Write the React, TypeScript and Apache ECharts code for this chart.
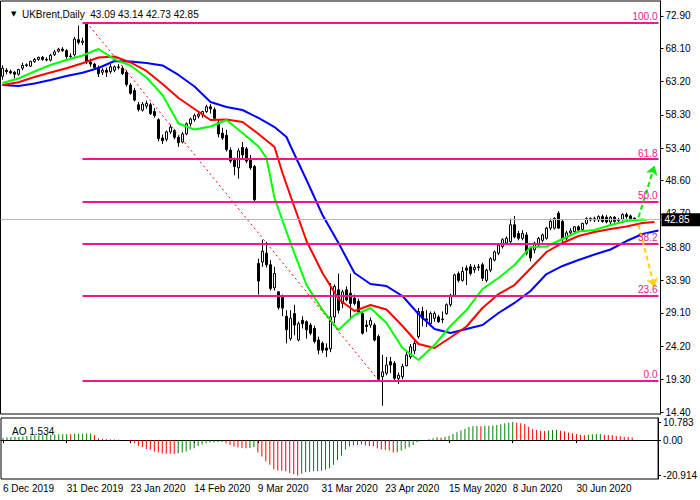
import React, { useEffect, useRef } from 'react';
import * as echarts from 'echarts';

const FONT = "'Liberation Sans', 'DejaVu Sans', sans-serif";

// date tick labels, one every 16 bars
const xLabels = ['6 Dec 2019', '31 Dec 2019', '23 Jan 2020', '14 Feb 2020', '9 Mar 2020', '31 Mar 2020', '23 Apr 2020', '15 May 2020', '8 Jun 2020', '30 Jun 2020'];
const LABEL_STEP = 16;
const N_SLOTS = 165;

const priceLabels = ['72.90', '68.10', '63.20', '58.30', '53.40', '48.60', '43.70', '38.80', '33.90', '29.10', '24.20', '19.30', '14.40'];
const aoTickValues = [10.783, 0, -20.914];
const aoTickLabels = ['10.783', '0.00', '-20.914'];

const open = [
  64.0, 64.9, 64.7, 64.6, 64.3, 65.2, 65.6, 65.5, 66.2, 66.5,
  66.8, 66.5, 66.4, 67.2, 67.7, 68.0, 67.8, 66.9, 67.2, 69.4,
  69.0, 71.9, 66.1, 65.8, 65.3, 64.6, 64.9, 64.7, 64.9, 65.4,
  65.2, 64.6, 62.7, 61.9, 59.8, 59.0, 59.6, 59.8, 58.8, 57.6,
  54.9, 54.7, 55.8, 56.0, 55.0, 54.3, 55.5, 57.0, 57.6, 58.1,
  58.3, 58.8, 59.5, 59.1, 57.2, 55.6, 55.3, 53.1, 51.8, 50.5,
  53.5, 53.3, 51.9, 50.7, 36.4, 36.6, 37.9, 36.2, 32.8, 32.2,
  31.4, 28.6, 25.3, 29.0, 25.1, 28.0, 27.8, 27.3, 26.8, 25.1,
  24.6, 23.9, 23.8, 28.5, 32.5, 30.5, 32.5, 32.0, 31.3, 30.8,
  29.0, 27.3, 27.3, 27.3, 25.6, 19.7, 20.2, 21.9, 21.65, 19.4,
  19.7, 21.3, 22.6, 23.5, 25.6, 29.3, 28.2, 27.5, 28.3, 28.5,
  28.1, 29.0, 30.3, 31.7, 34.9, 33.9, 35.7, 35.9, 35.5, 35.8,
  36.2, 33.9, 35.4, 36.9, 37.9, 38.9, 39.4, 39.6, 42.1, 40.8,
  40.1, 40.6, 38.6, 38.4, 39.1, 39.8, 40.1, 41.6, 41.6, 43.8,
  42.6, 40.1, 40.9, 41.1, 41.8, 41.4, 42.3, 43.0, 42.8, 42.8,
  43.3, 43.2, 42.5, 43.2, 42.7, 42.9, 43.6, 43.4, 43.09,
];
const high = [
  65.6, 65.2, 65.0, 64.8, 65.1, 66.0, 65.9, 66.3, 66.7, 66.9,
  67.0, 66.8, 67.3, 67.9, 68.2, 68.3, 68.0, 67.4, 69.8, 71.5,
  69.7, 72.0, 66.6, 66.0, 65.6, 65.2, 65.3, 65.8, 65.6, 65.8,
  65.5, 64.9, 63.0, 62.3, 60.2, 60.2, 60.4, 60.1, 59.3, 57.8,
  55.4, 56.0, 56.9, 56.2, 55.3, 55.8, 57.2, 57.9, 58.5, 58.7,
  58.9, 59.8, 59.9, 59.4, 57.6, 56.4, 56.1, 53.5, 52.0, 53.4,
  54.3, 53.6, 52.4, 50.9, 37.1, 39.9, 39.6, 36.9, 35.9, 32.3,
  31.8, 29.5, 29.5, 30.3, 27.8, 28.6, 28.0, 27.6, 27.2, 25.6,
  24.9, 24.6, 33.5, 33.3, 34.9, 32.5, 33.0, 34.9, 31.8, 31.2,
  29.4, 28.0, 28.4, 27.6, 25.9, 22.9, 22.6, 22.6, 22.0, 20.3,
  21.6, 23.6, 24.5, 25.3, 29.8, 30.0, 29.5, 29.3, 29.3, 28.8,
  29.3, 30.5, 31.9, 34.9, 35.2, 35.9, 36.1, 36.3, 36.2, 36.3,
  36.5, 35.6, 37.3, 38.3, 39.3, 40.1, 40.4, 43.0, 43.4, 41.2,
  41.3, 41.0, 38.9, 39.6, 40.3, 40.8, 41.8, 43.0, 43.2, 44.1,
  42.8, 41.2, 41.6, 41.9, 42.0, 42.4, 43.2, 43.2, 43.3, 43.5,
  43.6, 43.5, 43.4, 43.4, 43.1, 43.8, 43.9, 43.6, 43.14,
];
const low = [
  63.5, 64.3, 64.3, 63.7, 64.1, 64.9, 65.4, 65.4, 66.0, 66.3,
  66.3, 66.2, 66.2, 67.0, 67.5, 67.6, 66.6, 66.5, 66.9, 68.7,
  68.6, 65.8, 65.4, 65.0, 63.9, 64.2, 63.9, 64.4, 64.6, 65.0,
  64.2, 62.5, 61.3, 60.3, 58.8, 58.8, 59.2, 58.3, 57.9, 54.4,
  54.0, 54.4, 55.5, 54.7, 53.6, 54.1, 55.3, 56.6, 57.3, 57.8,
  57.9, 58.6, 58.5, 57.5, 55.0, 54.6, 52.9, 51.2, 49.4, 48.9,
  51.7, 51.2, 50.2, 45.5, 31.8, 35.9, 35.8, 32.4, 32.4, 29.6,
  28.6, 24.6, 25.0, 25.8, 24.9, 26.8, 25.3, 25.8, 24.6, 23.0,
  23.2, 22.6, 23.3, 27.6, 29.0, 29.8, 30.8, 28.1, 30.2, 28.9,
  25.9, 26.3, 26.9, 24.9, 19.0, 15.4, 19.9, 20.2, 19.2, 18.6,
  19.3, 21.2, 22.3, 23.0, 25.3, 27.1, 27.0, 27.2, 27.8, 27.6,
  27.6, 28.8, 30.0, 31.5, 33.6, 33.7, 33.2, 34.6, 35.0, 35.3,
  33.8, 33.6, 35.1, 36.7, 37.6, 38.6, 39.1, 39.4, 40.1, 39.8,
  39.8, 37.6, 36.7, 37.9, 38.9, 39.5, 39.9, 41.3, 41.4, 41.5,
  39.6, 39.8, 40.4, 40.8, 41.0, 41.2, 42.1, 42.6, 42.5, 42.5,
  42.4, 42.3, 42.2, 42.4, 42.4, 42.7, 43.0, 42.8, 42.73,
];
const close = [
  65.2, 64.7, 64.5, 64.3, 65.0, 65.6, 65.7, 66.2, 66.5, 66.8,
  66.5, 66.4, 67.1, 67.6, 68.0, 67.8, 66.9, 67.0, 69.5, 69.0,
  69.2, 66.1, 65.8, 65.3, 64.4, 64.9, 64.6, 65.4, 65.4, 65.3,
  64.4, 62.8, 61.5, 60.5, 59.1, 59.9, 60.0, 58.5, 58.2, 54.8,
  54.5, 55.8, 56.5, 55.0, 54.2, 55.5, 57.0, 57.7, 58.2, 58.4,
  58.8, 59.5, 59.2, 57.8, 55.5, 54.9, 53.2, 51.5, 50.7, 53.0,
  52.4, 51.5, 50.5, 45.8, 33.8, 38.2, 36.2, 32.7, 34.9, 29.9,
  29.8, 26.6, 28.3, 27.3, 27.5, 27.5, 26.6, 26.1, 24.9, 23.6,
  23.6, 23.6, 28.5, 33.0, 29.5, 32.2, 31.0, 30.5, 30.5, 29.2,
  26.1, 27.1, 28.0, 25.1, 19.3, 20.4, 21.4, 21.4, 19.45, 19.9,
  21.2, 22.9, 24.1, 24.6, 29.3, 28.3, 28.0, 29.0, 29.0, 27.8,
  28.2, 30.3, 31.7, 34.7, 33.9, 35.2, 35.4, 34.9, 35.8, 35.9,
  34.2, 35.4, 37.1, 38.1, 39.1, 39.9, 40.1, 42.1, 40.3, 40.1,
  40.8, 37.9, 37.2, 39.4, 40.1, 40.6, 41.6, 42.6, 43.05, 41.6,
  40.1, 40.9, 41.2, 41.8, 41.3, 42.3, 43.0, 42.8, 43.0, 43.3,
  42.6, 42.5, 43.2, 42.6, 42.9, 43.6, 43.3, 43.0, 42.85,
];

// Alligator lines: [bar index, price]
const lips = [
  [0, 63.01], [4, 63.68], [8, 64.71], [12, 65.67], [16, 66.41], [20, 67.07], [24, 68.03], [28, 66.5],
  [32, 65.6], [36, 63.83], [40, 61.24], [44, 57.04], [48, 56.15], [52, 56.6], [56, 57.56], [60, 55.64],
  [64, 53.65], [66, 51.95], [68, 46.05], [72, 39.41], [76, 33.21], [80, 29.52], [84, 26.57], [88, 28.79],
  [92, 29.82], [96, 27.61], [100, 23.92], [104, 22.15], [108, 24.36], [112, 27.16], [116, 29.52], [120, 32.62],
  [124, 34.24], [128, 36.16], [132, 38.82], [136, 38.89], [140, 40.0], [144, 41.11], [148, 41.33], [152, 42.06],
  [156, 42.65], [160, 42.88], [161, 42.8],
];
const teeth = [
  [0, 62.72], [4, 63.12], [8, 63.9], [12, 64.56], [16, 65.18], [20, 65.92], [24, 66.78], [28, 66.92],
  [32, 66.04], [36, 64.79], [40, 62.87], [44, 60.8], [48, 59.18], [52, 57.56], [56, 57.63], [60, 57.26],
  [64, 55.49], [68, 53.57], [70, 49.74], [72, 46.34], [76, 39.7], [80, 34.98], [84, 31.15], [88, 29.38],
  [92, 30.26], [96, 29.6], [100, 27.16], [104, 24.51], [108, 23.92], [112, 25.47], [116, 27.09], [120, 29.82],
  [124, 31.88], [128, 33.21], [132, 35.65], [136, 38.08], [140, 39.41], [144, 40.44], [148, 41.03], [152, 41.47],
  [156, 41.84], [160, 42.36], [163, 42.51],
];
const jaw = [
  [0, 62.72], [4, 62.57], [8, 62.94], [12, 63.46], [16, 64.05], [20, 64.53], [24, 65.23], [28, 66.26],
  [32, 66.19], [36, 65.97], [40, 65.6], [44, 64.2], [48, 62.5], [52, 60.21], [56, 59.47], [60, 59.03],
  [64, 57.85], [68, 56.52], [71, 55.05], [72, 53.72], [76, 48.7], [80, 43.54], [84, 39.41], [88, 34.98],
  [92, 33.36], [96, 33.06], [100, 31.59], [104, 28.93], [108, 26.72], [112, 26.13], [116, 26.72], [120, 27.31],
  [124, 29.08], [128, 30.56], [132, 32.33], [136, 34.83], [140, 36.02], [144, 36.9], [148, 37.71], [152, 38.45],
  [156, 39.7], [160, 40.74], [164, 41.25],
];

// Awesome Oscillator
const ao = [
  1.34, 1.7, 1.9, 2.0, 2.1, 2.2, 2.5, 2.7, 2.9, 3.0,
  3.1, 3.2, 3.3, 3.4, 3.5, 3.55, 3.7, 3.5, 3.7, 3.75,
  3.8, 3.9, 3.95, 3.1, 1.1, 0.75, 0.55, 0.45, 0.35, 0.25,
  0.15, -0.05, -0.8, -1.8, -3.4, -4.2, -5.2, -5.7, -6.7, -7.3,
  -7.9, -8.0, -8.1, -8.2, -7.7, -7.3, -6.7, -5.7, -4.8, -3.4,
  -2.6, -1.8, -1.4, -1.3, -1.2, -1.1, -1.8, -2.8, -3.8, -4.4,
  -4.6, -4.8, -4.6, -4.2, -7.3, -9.7, -12.6, -14.6, -17.2, -18.0,
  -18.2, -18.5, -19.5, -20.1, -20.914, -19.9, -19.1, -18.7, -18.5, -18.35,
  -18.2, -17.6, -16.6, -14.6, -11.7, -9.1, -5.6, -3.7, -3.2, -2.8,
  -2.6, -3.2, -3.4, -3.8, -4.8, -5.4, -5.7, -6.1, -7.3, -7.1,
  -6.1, -5.1, -4.2, -2.8, -1.2, -0.25, 0.15, 0.55, 1.15, 1.7,
  1.5, 2.1, 2.7, 3.7, 4.7, 5.7, 6.85, 7.8, 8.2, 8.4,
  8.2, 8.5, 8.6, 8.7, 9.0, 9.4, 10.0, 10.4, 10.783, 10.4,
  10.0, 9.6, 8.0, 6.65, 6.05, 5.65, 5.5, 5.7, 6.05, 6.25,
  5.65, 5.1, 4.5, 4.1, 3.7, 3.1, 2.9, 3.3, 3.5, 3.6,
  3.7, 3.3, 3.1, 2.9, 2.5, 2.3, 2.1, 1.9, 1.534,
];

// Fibonacci retracement drawn on the chart
const fibLevels = ['0.0', '23.6', '38.2', '50.0', '61.8', '100.0'];
const fibPrices = [19.15, 31.62, 39.33, 45.56, 51.79, 71.97];
const fibStartBar = 20;
const fibEndBar = 164;
const trendLine = [[21, 71.97], [94, 19.15]];
const upArrow = [[159, 43.2], [163, 50.8]];
const downArrow = [[159, 42.1], [163, 32.9]];
const lastPrice = 42.85;

const PINK = '#F0168C';

export default function App() {
  const ref = useRef<HTMLDivElement>(null);
  useEffect(() => {
    if (!ref.current) return;
    const chart = echarts.init(ref.current, undefined, { renderer: 'svg' });
    const last = close.length - 1;
    const cats = Array.from({ length: N_SLOTS }, (_, i) => String(i));
    const priceVals = priceLabels.map((s) => parseFloat(s));
    const showTick = (i: number) => i % LABEL_STEP === 0 && i / LABEL_STEP < xLabels.length;

    const fibData: any[] = fibPrices.map((p, i) => {
      const style = {
        lineStyle: { color: PINK, width: 2, type: 'solid' },
        label: { show: true, position: 'insideEndTop', formatter: fibLevels[i], color: PINK, fontSize: 10, fontFamily: FONT, distance: 1 },
      };
      return [{ coord: [fibStartBar, p], ...style }, { coord: [fibEndBar, p], ...style }];
    });
    const noLabel = { show: false };
    const trendStyle = { lineStyle: { color: '#ff0000', width: 1, type: [2, 3] }, label: noLabel };
    const upStyle = { lineStyle: { color: '#00ee00', width: 2, type: [5, 3] }, label: noLabel };
    const downStyle = { lineStyle: { color: '#FFD200', width: 2, type: [5, 3] }, label: noLabel };

    const option: any = {
      animation: false,
      backgroundColor: '#ffffff',
      title: [
        {
          left: 6, top: 4,
          text: `{t|\u25BC}  UKBrent,Daily  ${open[last].toFixed(2)} ${high[last].toFixed(2)} ${low[last].toFixed(2)} ${close[last].toFixed(2)}`,
          textStyle: { fontFamily: FONT, fontSize: 10, fontWeight: 'normal', color: '#000', rich: { t: { fontSize: 7, fontFamily: "'DejaVu Sans'", color: '#000' } } },
        },
        {
          left: 7, top: 421,
          text: `AO ${ao[last].toFixed(3)}`,
          textStyle: { fontFamily: FONT, fontSize: 10, fontWeight: 'normal', color: '#000' },
        },
      ],
      grid: [
        { left: 0.5, right: 39.5, top: 1, height: 413, show: true, borderColor: '#000', borderWidth: 1 },
        { left: 0.5, right: 39.5, top: 418, height: 61, show: true, borderColor: '#000', borderWidth: 1 },
      ],
      xAxis: [
        { type: 'category', gridIndex: 0, data: cats, boundaryGap: true, axisLine: { show: false }, axisTick: { show: false }, axisLabel: { show: false } },
        {
          type: 'category', gridIndex: 1, data: cats, boundaryGap: true,
          axisLine: { show: true, lineStyle: { color: '#000' } },
          axisTick: { show: true, alignWithLabel: true, interval: (i: number) => showTick(i), length: 3, lineStyle: { color: '#000' } },
          axisLabel: {
            interval: (i: number) => showTick(i), align: 'left', margin: 4, fontSize: 10, color: '#000', fontFamily: FONT,
            formatter: (_v: string, idx: number) => (showTick(idx) ? xLabels[idx / LABEL_STEP] : ''),
          },
        },
      ],
      yAxis: [
        {
          type: 'value', gridIndex: 0, position: 'right', min: 14.18, max: 75.11,
          splitLine: { show: false },
          axisLine: { show: true, lineStyle: { color: '#000' } },
          axisTick: { show: true, length: 3, customValues: priceVals, lineStyle: { color: '#000' } },
          axisLabel: {
            customValues: priceVals, margin: 5, fontSize: 10, color: '#000', fontFamily: FONT,
            formatter: (v: number) => { const k = priceVals.findIndex((p) => Math.abs(p - v) < 1e-6); return k >= 0 ? priceLabels[k] : ''; },
          },
        },
        {
          type: 'value', gridIndex: 1, position: 'right', min: -23.04, max: 13.17,
          splitLine: { show: false },
          axisLine: { show: true, lineStyle: { color: '#000' } },
          axisTick: { show: true, length: 3, customValues: aoTickValues, lineStyle: { color: '#000' } },
          axisLabel: {
            customValues: aoTickValues, margin: 5, fontSize: 10, color: '#000', fontFamily: FONT,
            formatter: (v: number) => { const k = aoTickValues.findIndex((p) => Math.abs(p - v) < 1e-6); return k >= 0 ? aoTickLabels[k] : ''; },
          },
        },
      ],
      series: [
        {
          type: 'candlestick', xAxisIndex: 0, yAxisIndex: 0,
          data: open.map((o, i) => [o, close[i], low[i], high[i]]),
          barWidth: 3,
          itemStyle: { color: '#ffffff', color0: '#000000', borderColor: '#000000', borderColor0: '#000000', borderWidth: 1 },
          z: 2,
          markLine: {
            silent: true, animation: false, symbol: ['none', 'none'],
            data: [
              { yAxis: lastPrice, lineStyle: { color: '#b8b8b8', width: 1, type: 'solid' },
                label: { show: true, position: 'end', formatter: lastPrice.toFixed(2), color: '#fff', backgroundColor: '#000', padding: [2, 12, 1, 3], fontSize: 10, fontFamily: FONT, distance: 1 } },
              ...fibData,
              [{ coord: trendLine[0], ...trendStyle }, { coord: trendLine[1], ...trendStyle }],
              [{ coord: upArrow[0], symbol: 'none', ...upStyle }, { coord: upArrow[1], symbol: 'arrow', symbolSize: 9, ...upStyle }],
              [{ coord: downArrow[0], symbol: 'none', ...downStyle }, { coord: downArrow[1], symbol: 'arrow', symbolSize: 9, ...downStyle }],
            ],
          },
        },
        { type: 'line', xAxisIndex: 0, yAxisIndex: 0, data: jaw, showSymbol: false, symbol: 'none', lineStyle: { color: '#0000ff', width: 2 }, z: 3 },
        { type: 'line', xAxisIndex: 0, yAxisIndex: 0, data: teeth, showSymbol: false, symbol: 'none', lineStyle: { color: '#ff0000', width: 2 }, z: 3 },
        { type: 'line', xAxisIndex: 0, yAxisIndex: 0, data: lips, showSymbol: false, symbol: 'none', lineStyle: { color: '#00ff00', width: 2 }, z: 3 },
        {
          type: 'bar', xAxisIndex: 1, yAxisIndex: 1, barWidth: 1,
          data: ao.map((v, i) => ({ value: v, itemStyle: { color: i === 0 || v > ao[i - 1] ? '#008000' : '#ff0000' } })),
        },
      ],
    };
    chart.setOption(option);
    return () => chart.dispose();
  }, []);
  return <div ref={ref} style={{ position: 'fixed', left: 0, top: 0, width: 700, height: 500, background: '#fff' }} />;
}
